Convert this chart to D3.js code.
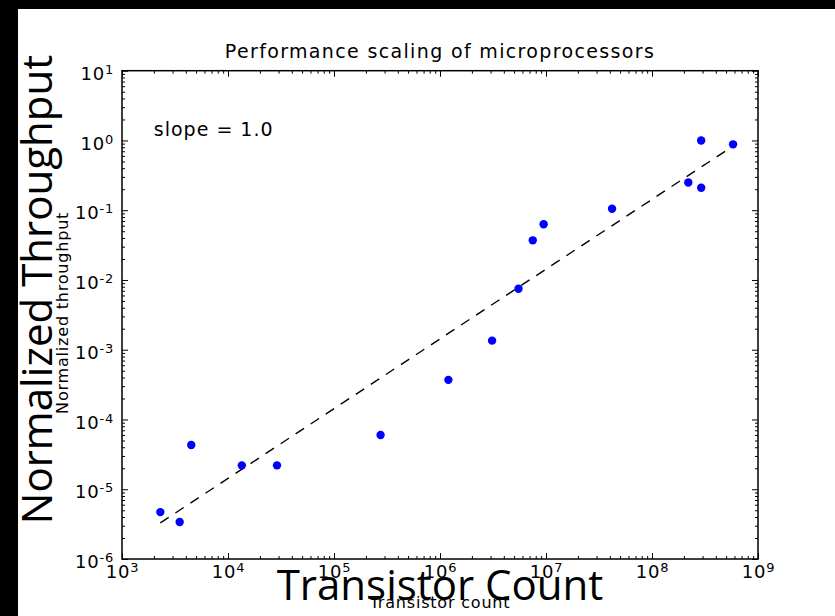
<!DOCTYPE html>
<html>
<head>
<meta charset="utf-8">
<script src="https://cdn.jsdelivr.net/npm/d3@7"></script>
<style>
  html, body { margin: 0; padding: 0; background: #fff; }
  svg { display: block; }
  text { font-family: "DejaVu Sans", sans-serif; fill: #000; }
</style>
</head>
<body>
<svg id="chart" width="835" height="616"></svg>
<script>
// Transistor count per processor and its normalized throughput
const transistors = [2300, 3500, 4500, 13500, 29000, 275000, 1200000, 3100000,
                     5500000, 7500000, 9500000, 42000000, 220000000, 291000000,
                     291000000, 582000000];
const throughput  = [4.7e-6, 3.4e-6, 4.3e-5, 2.2e-5, 2.2e-5, 6.0e-5, 3.7e-4, 1.35e-3,
                     7.5e-3, 0.037, 0.063, 0.105, 0.25, 0.21,
                     1.0, 0.88];

// Power-law fit: throughput = fitScale * transistors ^ fitSlope
const fitSlope = 1.0;
const fitScale = 1.43e-9;

// Decade exponents used for the log axes
const xExponents = [3, 4, 5, 6, 7, 8, 9];
const yExponents = [-6, -5, -4, -3, -2, -1, 0, 1];

const titleText = "Performance scaling of microprocessors";
const xLabel = "Transistor count";
const yLabel = "Normalized throughput";
const xBigLabel = "Transistor Count";
const yBigLabel = "Normalized Throughput";

const W = 835, H = 616;
const box = { left: 122, right: 758, top: 70.7, bottom: 559 };

const svg = d3.select("#chart");

// page background with the dark bands on top and left
svg.append("rect").attr("width", W).attr("height", H).attr("fill", "#fff");
svg.append("rect").attr("x", 0).attr("y", 0).attr("width", W).attr("height", 9).attr("fill", "#000");
svg.append("rect").attr("x", 0).attr("y", 0).attr("width", 18).attr("height", H).attr("fill", "#000");

const x = d3.scaleLog().domain([1e3, 1e9]).range([box.left, box.right]);
const y = d3.scaleLog().domain([1e-6, 1e1]).range([box.bottom, box.top]);

const majorX = xExponents.map(e => Math.pow(10, e));
const majorY = yExponents.map(e => Math.pow(10, e));
function minorTicks(exps) {
  const out = [];
  for (let i = 0; i < exps.length - 1; i++) {
    for (let m = 2; m <= 9; m++) out.push(m * Math.pow(10, exps[i]));
  }
  return out;
}
const minorX = minorTicks(xExponents);
const minorY = minorTicks(yExponents);

const MAJOR = 6, MINOR = 3;

function styleAxis(g) {
  g.select(".domain").remove();
  g.selectAll(".tick line").attr("stroke", "#000").attr("stroke-width", 1);
}

// minor ticks on all four sides (pointing inward)
svg.append("g").attr("transform", `translate(0,${box.bottom})`)
  .call(d3.axisBottom(x).tickValues(minorX).tickSize(-MINOR).tickFormat(""))
  .call(styleAxis);
svg.append("g").attr("transform", `translate(0,${box.top})`)
  .call(d3.axisTop(x).tickValues(minorX).tickSize(-MINOR).tickFormat(""))
  .call(styleAxis);
svg.append("g").attr("transform", `translate(${box.left},0)`)
  .call(d3.axisLeft(y).tickValues(minorY).tickSize(-MINOR).tickFormat(""))
  .call(styleAxis);
svg.append("g").attr("transform", `translate(${box.right},0)`)
  .call(d3.axisRight(y).tickValues(minorY).tickSize(-MINOR).tickFormat(""))
  .call(styleAxis);

// major ticks on top and right, unlabeled
svg.append("g").attr("transform", `translate(0,${box.top})`)
  .call(d3.axisTop(x).tickValues(majorX).tickSize(-MAJOR).tickFormat(""))
  .call(styleAxis);
svg.append("g").attr("transform", `translate(${box.right},0)`)
  .call(d3.axisRight(y).tickValues(majorY).tickSize(-MAJOR).tickFormat(""))
  .call(styleAxis);

// labels like 10^k with a raised exponent
function powerLabel(sel) {
  sel.each(function (d) {
    const t = d3.select(this);
    const e = Math.round(Math.log10(d));
    t.text(null)
      .style("font-size", "18px")
      .style("letter-spacing", "0.8px");
    t.append("tspan").text("10");
    t.append("tspan").attr("dy", "-6").style("font-size", "13px").text(String(e));
  });
}

const xAxisG = svg.append("g").attr("transform", `translate(0,${box.bottom})`)
  .call(d3.axisBottom(x).tickValues(majorX).tickSize(-MAJOR).tickPadding(6)
        .tickFormat(d => String(d)))
  .call(styleAxis);
xAxisG.selectAll(".tick text").attr("dy", "13px").attr("font-family", null).attr("font-size", null)
  .call(powerLabel);

const yAxisG = svg.append("g").attr("transform", `translate(${box.left},0)`)
  .call(d3.axisLeft(y).tickValues(majorY).tickSize(-MAJOR).tickPadding(8)
        .tickFormat(d => String(d)))
  .call(styleAxis);
yAxisG.selectAll(".tick text").attr("dy", "8.6px").attr("font-family", null).attr("font-size", null)
  .call(powerLabel);

// frame
svg.append("rect")
  .attr("x", box.left).attr("y", box.top)
  .attr("width", box.right - box.left).attr("height", box.bottom - box.top)
  .attr("fill", "none").attr("stroke", "#000").attr("stroke-width", 1.5);

// fitted power law as a dashed line across the data range
const xr = d3.extent(transistors);
const fitPts = xr.map(v => [v, fitScale * Math.pow(v, fitSlope)]);
svg.append("path")
  .attr("d", d3.line().x(d => x(d[0])).y(d => y(d[1]))(fitPts))
  .attr("fill", "none").attr("stroke", "#000").attr("stroke-width", 1.4)
  .attr("stroke-dasharray", "10,8");

// data points
svg.append("g").selectAll("circle")
  .data(transistors.map((t, i) => [t, throughput[i]]))
  .join("circle")
  .attr("cx", d => x(d[0])).attr("cy", d => y(d[1])).attr("r", 4.2)
  .attr("fill", "#0000ff");

// annotation with the fitted slope
svg.append("text")
  .attr("x", box.left + 0.05 * (box.right - box.left)).attr("y", 136)
  .style("font-size", "19px").style("letter-spacing", "1px")
  .text(`slope = ${fitSlope.toFixed(1)}`);

// title
svg.append("text")
  .attr("x", (box.left + box.right) / 2).attr("y", 57.5)
  .attr("text-anchor", "middle")
  .style("font-size", "19px").style("letter-spacing", "1.35px")
  .text(titleText);

// axis labels
svg.append("text")
  .attr("x", (box.left + box.right) / 2).attr("y", 608)
  .attr("text-anchor", "middle")
  .style("font-size", "16px").style("letter-spacing", "0.8px")
  .text(xLabel);
svg.append("text")
  .attr("transform", `translate(68,${(box.top + box.bottom) / 2 - 2}) rotate(-90)`)
  .attr("text-anchor", "middle")
  .style("font-size", "16px").style("letter-spacing", "0.8px")
  .text(yLabel);

// large overlay captions
svg.append("text")
  .attr("x", 440).attr("y", 600)
  .attr("text-anchor", "middle")
  .style("font-family", "'Open Sans', sans-serif").style("font-size", "42px")
  .text(xBigLabel);
svg.append("text")
  .attr("transform", `translate(52,289.5) rotate(-90)`)
  .attr("text-anchor", "middle")
  .style("font-family", "'Open Sans', sans-serif").style("font-size", "42px")
  .text(yBigLabel);
</script>
</body>
</html>
